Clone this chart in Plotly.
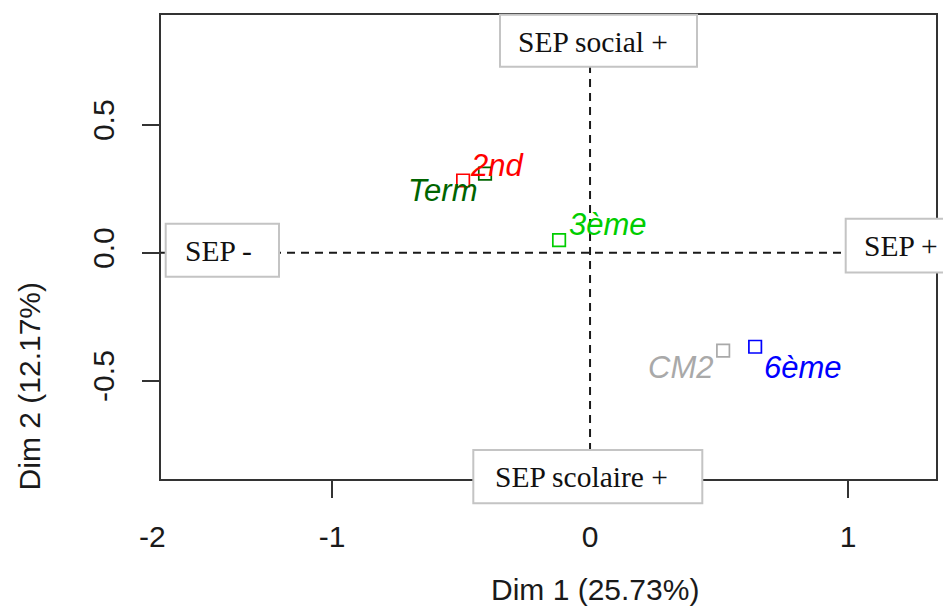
import plotly.graph_objects as go

# ---- data ----
categories = ["2nd", "Term", "3ème", "CM2", "6ème"]
dim1 = [-0.492, -0.407, -0.120, 0.516, 0.640]
dim2 = [0.282, 0.309, 0.049, -0.383, -0.368]
colors = ["#FF0000", "#006400", "#00CD00", "#A9A9A9", "#0000FF"]
# label offsets (px) relative to each point (label placement in the picture)
label_dx = [34, -43, 49, -43, 48]
label_dy = [15, -17, 16, -17, -21]

x_tick_vals = [-1, 0, 1]
x_tick_text = ["-1", "0", "1"]
y_tick_vals = [-0.5, 0.0, 0.5]
y_tick_text = ["-0.5", "0.0", "0.5"]
x_title = "Dim 1 (25.73%)"
y_title = "Dim 2 (12.17%)"
box_texts = ["SEP social +", "SEP -", "SEP +", "SEP scolaire +"]

# page body adds an 8px margin, so the figure is drawn 8px smaller
OFF = 8
W, H = 951 - OFF, 607 - OFF
# plot-area edges in window pixels
L, R, T, B = 161, 936, 13, 479
x_range = [-1.663, 1.341]
y_range = [-0.885, 0.929]


def px(xp):
    return (xp - L) / (R - L)


def py(yp):
    return (B - yp) / (B - T)


fig = go.Figure()

# reference dashed lines at 0
for shp in [
    dict(type="line", xref="x", yref="paper", x0=0, x1=0, y0=0, y1=1),
    dict(type="line", xref="paper", yref="y", x0=0, x1=1, y0=0, y1=0),
]:
    shp.update(line=dict(color="#1a1a1a", width=2, dash="8px,6px"), layer="below")
    fig.add_shape(**shp)

fig.add_trace(go.Scatter(
    x=dim1, y=dim2, mode="markers",
    marker=dict(symbol="square-open", size=12.5, color=colors, line=dict(width=1.7)),
    hoverinfo="text", text=categories, showlegend=False,
))

for c, xv, yv, col, dx, dy in zip(categories, dim1, dim2, colors, label_dx, label_dy):
    fig.add_annotation(x=xv, y=yv, xref="x", yref="y", text=c, showarrow=False,
                       xshift=dx, yshift=dy,
                       font=dict(family="Liberation Sans, Arial", size=31, color=col, style="italic"))

# overlay boxes (window-pixel rectangles)
boxes = [
    (500, 697, 12.7, 65),
    (165.7, 279, 222.7, 276),
    (845.7, 960, 217.7, 271.7),
    (473.3, 702.3, 450, 503.3),
]
box_text_pos = [(593, 40), (218, 250), (901, 245), (581.5, 477)]
for (x0, x1, y0, y1) in boxes:
    fig.add_shape(type="rect", xref="paper", yref="paper",
                  x0=px(x0), x1=px(x1), y0=py(y1), y1=py(y0),
                  fillcolor="white", line=dict(color="#c4c4c4", width=2), layer="above")
for t, (tx, ty) in zip(box_texts, box_text_pos):
    fig.add_annotation(x=px(tx), y=py(ty), xref="paper", yref="paper", text=t,
                       showarrow=False, xanchor="center", yanchor="middle",
                       font=dict(family="Liberation Serif, Times New Roman", size=29.5, color="#111111"))

# axis titles and the extra "-2" label
fig.add_annotation(x=px(595), y=py(590), xref="paper", yref="paper", text=x_title,
                   showarrow=False, xanchor="center", yanchor="middle",
                   font=dict(family="Liberation Sans, Arial", size=30, color="#1a1a1a"))
fig.add_annotation(x=px(29), y=py(386), xref="paper", yref="paper", text=y_title,
                   showarrow=False, xanchor="center", yanchor="middle", textangle=-90,
                   font=dict(family="Liberation Sans, Arial", size=30, color="#1a1a1a"))
fig.add_annotation(x=px(152), y=py(537), xref="paper", yref="paper", text="-2",
                   showarrow=False, xanchor="center", yanchor="middle",
                   font=dict(family="Liberation Sans, Arial", size=30, color="#1a1a1a"))

axis_common = dict(showgrid=False, zeroline=False, showline=True, mirror=True,
                   linecolor="#333333", linewidth=2, ticks="outside", ticklen=17,
                   tickwidth=2, tickcolor="#333333",
                   tickfont=dict(family="Liberation Sans, Arial", size=30, color="#1a1a1a"))

fig.update_xaxes(range=x_range, tickvals=x_tick_vals, ticktext=x_tick_text,
                 ticklabelstandoff=13, **axis_common)
fig.update_yaxes(range=y_range, tickvals=y_tick_vals, ticktext=y_tick_text,
                 tickangle=-90, ticklabelstandoff=16, **axis_common)

fig.update_layout(width=W, height=H,
                  margin=dict(l=L - OFF, r=W - (R - OFF), t=T - OFF, b=H - (B - OFF)),
                  plot_bgcolor="white", paper_bgcolor="white")

fig.write_html("out.html")
